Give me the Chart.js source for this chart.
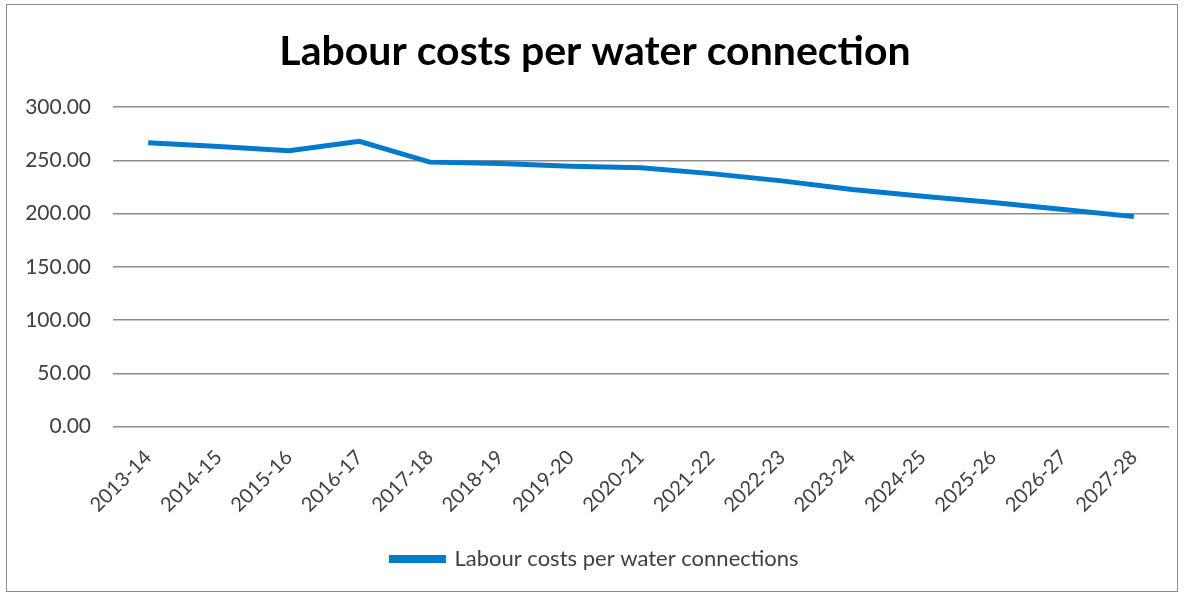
<!DOCTYPE html>
<html>
<head>
<meta charset="utf-8">
<script src="https://cdn.jsdelivr.net/npm/chart.js@4"></script>
<style>
  html, body { margin: 0; padding: 0; background: #fff; }
  #wrap {
    position: absolute; left: 6px; top: 4px; width: 1172px; height: 588px;
    border: 1.5px solid #8c8c8c; box-sizing: border-box;
  }
  canvas { display: block; }
</style>
</head>
<body>
<div id="wrap"><canvas id="myCanvas"></canvas></div>
<script>
const labels = ["2013-14", "2014-15", "2015-16", "2016-17", "2017-18", "2018-19", "2019-20", "2020-21",
    "2021-22", "2022-23", "2023-24", "2024-25", "2025-26", "2026-27", "2027-28"];
const labourCosts = [266.6, 263.0, 259.2, 268.0, 248.4, 247.0, 244.5, 243.2,
    237.6, 230.8, 222.6, 216.4, 210.4, 204.0, 197.2];
const yTicks = [0, 50, 100, 150, 200, 250, 300];

const fontFamily = "Lato, 'Open Sans', sans-serif";
const textColor = "#404040";

const data = {
    labels: labels,
    datasets: [
        {
            label: "Labour costs per water connections",
            backgroundColor: "rgb(0, 122, 204)",
            borderColor: "rgb(0, 122, 204)",
            borderWidth: 5,
            pointRadius: 0,
            tension: 0,
            data: labourCosts,
        },
    ],
};

const canvasId = document.getElementById("myCanvas");
new Chart(canvasId, {
    type: "line",
    data,
    options: {
        responsive: true,
        maintainAspectRatio: false,
        animation: false,
        layout: { padding: { left: 14, right: 8, top: 10, bottom: 11 } },
        plugins: {
            title: {
                display: true,
                text: "Labour costs per water connection",
                color: "#000",
                font: { family: fontFamily, size: 41, weight: "bold" },
                padding: { top: 12, bottom: 31 },
            },
            legend: {
                position: "bottom",
                labels: {
                    color: textColor,
                    font: { family: fontFamily, size: 22 },
                    boxWidth: 52,
                    boxHeight: 3,
                    padding: 12,
                },
            },
            tooltip: { enabled: false },
        },
        scales: {
            x: {
                offset: true,
                grid: { display: false, drawTicks: false },
                border: { display: false },
                ticks: {
                    color: textColor,
                    font: { family: fontFamily, size: 20 },
                    minRotation: 45,
                    maxRotation: 45,
                    padding: 19,
                },
            },
            y: {
                min: 0,
                max: 300,
                afterBuildTicks: (axis) => {
                    axis.ticks = yTicks.map((v) => ({ value: v }));
                },
                afterFit: (axis) => {
                    axis.width = 92;
                },
                grid: { color: "#8c8c8c", lineWidth: 1.5, drawTicks: false },
                border: { display: false },
                ticks: {
                    color: textColor,
                    font: { family: fontFamily, size: 21 },
                    padding: 22,
                    callback: (v) => Number(v).toFixed(2),
                },
            },
        },
    },
});
</script>
</body>
</html>
